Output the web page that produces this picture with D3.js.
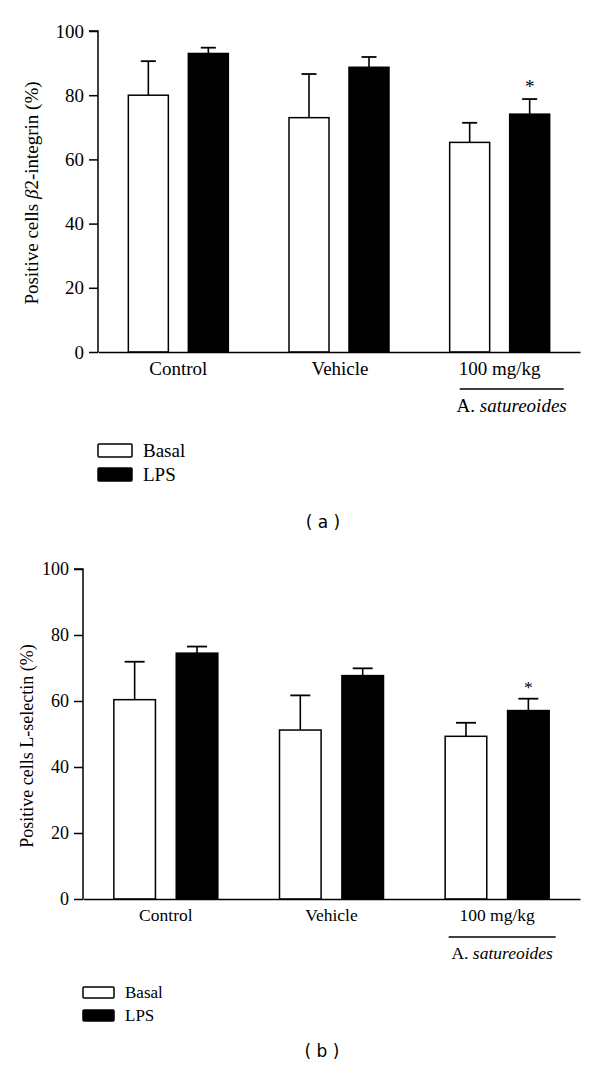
<!DOCTYPE html>
<html><head><meta charset="utf-8">
<script src="https://cdn.jsdelivr.net/npm/d3@7"></script>
<style>
body{margin:0;background:#fff}
svg text{font-family:"Liberation Serif","Times New Roman",serif;fill:#000}
</style></head>
<body><svg id="c" width="600" height="1079"></svg>
<script>
const groups = ["Control","Vehicle","100 mg/kg"];
const series = ["Basal","LPS"];
const yTicks = [0,20,40,60,80,100];
// panel a: β2-integrin
const aMean = {Basal:[80.0,73.0,65.3], LPS:[93.0,88.7,74.1]};
const aErr  = {Basal:[10.6,13.6,6.1],  LPS:[1.8,3.2,4.7]};
// panel b: L-selectin
const bMean = {Basal:[60.4,51.2,49.3], LPS:[74.5,67.7,57.1]};
const bErr  = {Basal:[11.5,10.5,4.1],  LPS:[2.0,2.2,3.6]};
const sig = [{group:"100 mg/kg", series:"LPS"}];

const svg = d3.select("#c");

function panel(o){
  const g = svg.append("g");
  const y = d3.scaleLinear().domain([0,100]).range([o.y0,o.y1]);
  const x0 = d3.scaleBand().domain(groups).range([o.xl,o.xr]).paddingInner(0).paddingOuter(0);
  const x1 = d3.scaleBand().domain(series).range([-o.gw/2,o.gw/2]).paddingInner(1/3).paddingOuter(0);
  const cx = gname => x0(gname)+x0.bandwidth()/2;

  series.forEach(s=>{
    groups.forEach((gn,i)=>{
      const m=o.mean[s][i], e=o.err[s][i];
      const bx = cx(gn)+x1(s), bw=x1.bandwidth(), mid=bx+bw/2;
      g.append("line").attr("x1",mid).attr("x2",mid).attr("y1",y(m)).attr("y2",y(m+e))
        .attr("stroke","#000").attr("stroke-width",1.6);
      g.append("line").attr("x1",mid-o.cap/2).attr("x2",mid+o.cap/2).attr("y1",y(m+e)).attr("y2",y(m+e))
        .attr("stroke","#000").attr("stroke-width",1.8);
      g.append("rect").attr("x",bx).attr("y",y(m)).attr("width",bw).attr("height",y(0)-y(m))
        .attr("fill",s==="LPS"?"#000":"#fff").attr("stroke","#000").attr("stroke-width",1.5);
      if(sig.some(d=>d.group===gn&&d.series===s)){
        g.append("text").attr("x",mid).attr("y",y(m+e)-6).attr("text-anchor","middle")
          .style("font-size",o.fs+"px").text("*");
      }
    });
  });

  const ya = g.append("g").attr("transform",`translate(${o.xl},0)`)
    .call(d3.axisLeft(y).tickValues(yTicks).tickSize(o.tick).tickPadding(5).tickFormat(d3.format("d")));
  ya.attr("font-family",null);
  ya.select(".domain").attr("stroke","#000").attr("stroke-width",1.5).attr("d",`M-${o.tick},${o.y1}H0V${o.y0}`);
  ya.selectAll(".tick line").attr("stroke","#000").attr("stroke-width",1.5);
  ya.selectAll("text").style("font-family","Liberation Serif").style("font-size",o.tfs+"px").attr("fill","#000");
  const xa = g.append("g").attr("transform",`translate(0,${o.y0})`)
    .call(d3.axisBottom(x0).tickSize(0).tickPadding(o.xpad));
  xa.attr("font-family",null);
  xa.select(".domain").attr("stroke","#000").attr("stroke-width",1.5);
  xa.selectAll("text").style("font-family","Liberation Serif").style("font-size",o.fs+"px").attr("fill","#000")
    .attr("dx",(d,i)=>o.dx[i]);
  const c3 = cx("100 mg/kg")+o.dx[2];
  g.append("line").attr("x1",c3-o.ulw/2+o.uoff).attr("x2",c3+o.ulw/2+o.uoff).attr("y1",o.uly).attr("y2",o.uly)
    .attr("stroke","#000").attr("stroke-width",1.5);
  const t = g.append("text").attr("x",c3+o.uoff).attr("y",o.sy).attr("text-anchor","middle").style("font-size",o.fs+"px");
  t.append("tspan").text("A. ");
  t.append("tspan").style("font-style","italic").text("satureoides");

  const yl = g.append("text").attr("transform",`translate(${o.ylx},${o.yly}) rotate(-90)`).attr("text-anchor","middle")
    .style("font-size",o.lfs+"px");
  o.ylabel(yl);

  series.forEach((s,i)=>{
    g.append("rect").attr("x",o.lx).attr("y",o.ly+i*o.lstep).attr("width",o.lw).attr("height",o.lh)
      .attr("fill",s==="LPS"?"#000":"#fff").attr("stroke","#000").attr("stroke-width",1.5).attr("rx",1);
    g.append("text").attr("x",o.lx+o.lw+o.ltx).attr("y",o.ly+i*o.lstep+o.lh).style("font-size",o.legfs+"px").text(s);
  });
  g.append("text").attr("x",o.tagx).attr("y",o.tagy).attr("text-anchor","middle")
    .style("font-family","DejaVu Sans, sans-serif").style("font-size","17px").text(o.tag);
}

panel({y0:352,y1:31,xl:98,xr:580,gw:100,cap:15,tick:9,fs:19,tfs:19,lfs:19,xpad:10,dx:[0,1,0],
  mean:aMean,err:aErr,ulw:104,uoff:12,uly:389,sy:412,ylx:38,yly:193,
  ylabel:t=>{t.append("tspan").text("Positive cells ");t.append("tspan").style("font-style","italic").text("β");t.append("tspan").text("2-integrin (%)");},
  lx:98,ly:444,lw:34,lh:13,lstep:24,ltx:11,legfs:19,tagx:323,tagy:528,tag:"( a )"});

panel({y0:899,y1:569,xl:83,xr:580,gw:104,cap:20,tick:9,fs:17.5,tfs:18,lfs:18,xpad:10,dx:[0,0,0],
  mean:bMean,err:bErr,ulw:107,uoff:5,uly:937,sy:959,ylx:33,yly:746,
  ylabel:t=>{t.text("Positive cells L-selectin (%)");},
  lx:83,ly:987,lw:31,lh:11,lstep:23,ltx:11,legfs:17,tagx:322,tagy:1057,tag:"( b )"});
</script></body></html>
